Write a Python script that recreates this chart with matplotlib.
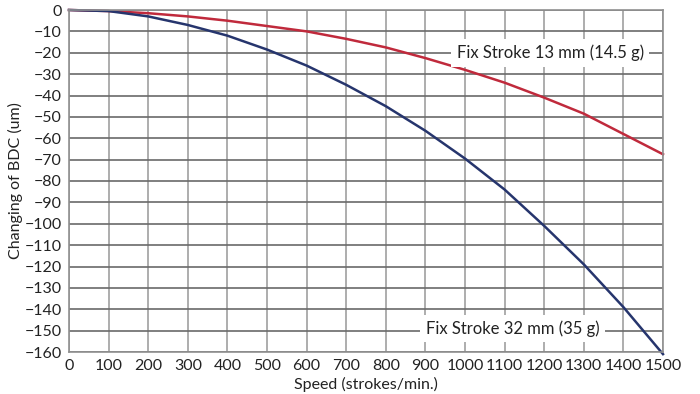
import matplotlib.pyplot as plt
import numpy as np

# speed (strokes/min) and BDC change (um)
speed = [0, 100, 200, 300, 400, 500, 600, 700, 800, 900, 1000, 1100, 1200, 1300, 1400, 1500]
bdc_13mm = [0, -0.5, -1.5, -3, -5, -7.5, -10, -13.5, -17.5, -22.5, -28, -34, -41, -48.5, -58, -67.5]
bdc_32mm = [0, -0.5, -3, -7, -12, -18.5, -26, -35, -45, -56.5, -69.5, -84, -101, -119, -139, -161]

label_13 = "Fix Stroke 13 mm (14.5 g)"
label_32 = "Fix Stroke 32 mm (35 g)"

plt.rcParams['font.family'] = ['Lato', 'DejaVu Sans']

fig = plt.figure(figsize=(7, 3.94), dpi=100)
ax = fig.add_axes([69 / 700, 1 - 352 / 394, (663 - 69) / 700, (352 - 10) / 394])

ax.set_xlim(0, 1500)
ax.set_ylim(-160, 0)
ax.set_xticks(np.arange(0, 1501, 100))
ax.set_yticks(np.arange(-160, 1, 10))

ax.xaxis.grid(True, color='#a0a0a0', lw=1.2)
ax.yaxis.grid(True, color='#6a6a6a', lw=1.2)
ax.set_axisbelow(True)
for s in ax.spines.values():
    s.set_color('#909090')
    s.set_linewidth(1.2)
ax.tick_params(length=0, labelsize=11.5, colors='#222222', pad=5)

ax.plot(speed, bdc_13mm, color='#c02a3c', lw=1.8, clip_on=False)
ax.plot(speed, bdc_32mm, color='#26356d', lw=1.8, clip_on=False)

ax.text(1215, -20, label_13, ha='center', va='center', fontsize=12, color='#222222',
        bbox=dict(facecolor='white', edgecolor='none', pad=4))
ax.text(1120, -149, label_32, ha='center', va='center', fontsize=12, color='#222222',
        bbox=dict(facecolor='white', edgecolor='none', pad=4))

ax.set_xlabel("Speed (strokes/min.)", fontsize=11.5, color='#222222', labelpad=3)
ax.set_ylabel("Changing of BDC (um)", fontsize=11.5, color='#222222', labelpad=1)

fig.savefig("out.png", dpi=100)
